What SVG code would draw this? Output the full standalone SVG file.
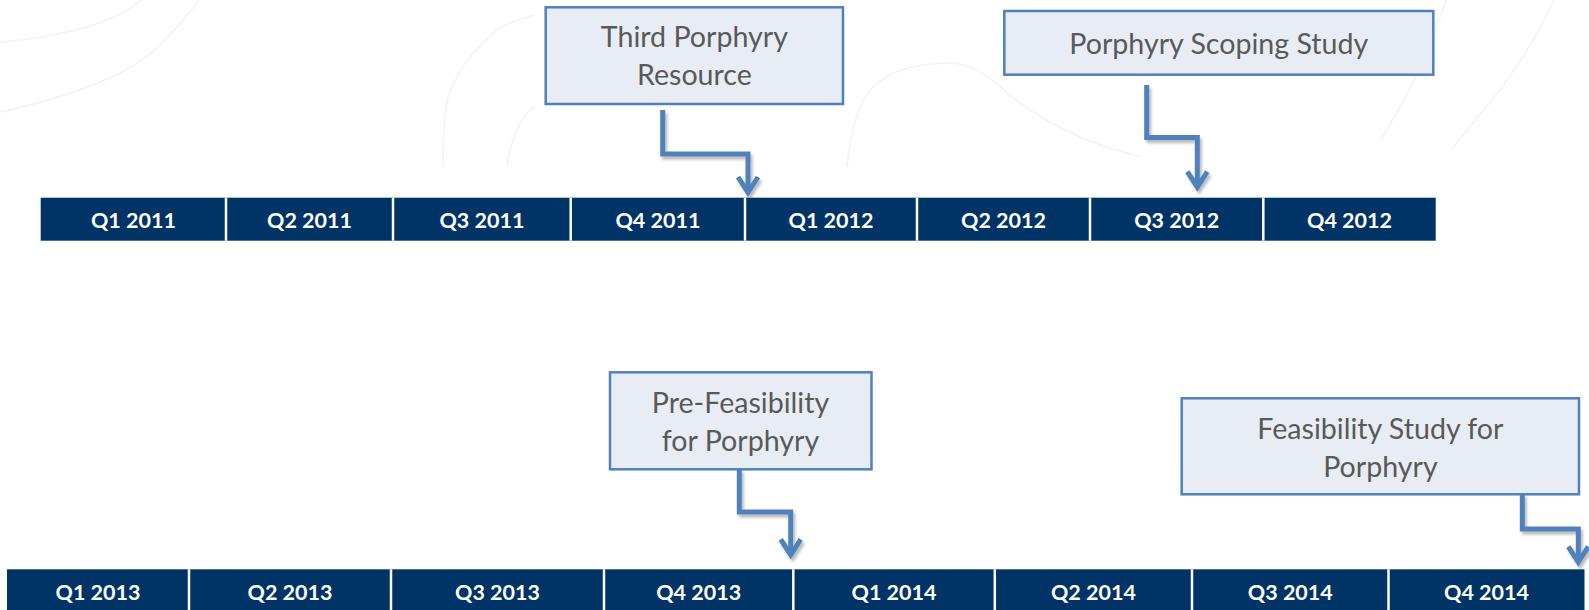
<svg xmlns="http://www.w3.org/2000/svg" width="1589" height="610" viewBox="0 0 1589 610">
  <defs>
    <filter id="shadow" x="-20%" y="-20%" width="140%" height="140%">
      <feDropShadow dx="2" dy="3" stdDeviation="1.8" flood-color="#000" flood-opacity="0.28"/>
    </filter>
    <style>
      .bg { fill: none; stroke: #f3f3f3; stroke-width: 1.6; }
      .bar { fill: #003366; }
      .div { stroke: #ffffff; stroke-width: 2.5; }
      .q { font-family: Lato, "Open Sans", "Liberation Sans", sans-serif; font-weight: bold; font-size: 21.5px; fill: #ffffff; text-anchor: middle; }
      .box { fill: #e8edf5; stroke: #4f81bd; stroke-width: 2.5; }
      .lbl { font-family: Lato, "Open Sans", "Liberation Sans", sans-serif; font-size: 28.6px; fill: #595959; text-anchor: middle; }
      .wire { fill: none; stroke: #4f81bd; stroke-width: 5; stroke-linejoin: miter; }
      .head { fill: none; stroke: #4f81bd; stroke-width: 5; stroke-linejoin: miter; stroke-miterlimit: 10; }
    </style>
  </defs>

  <rect width="1589" height="610" fill="#ffffff"/>

  <!-- faint contour lines in the background -->
  <g id="background">
    <path class="bg" d="M0 42 C30 40 80 32 112 18 C125 12 135 6 142 0"/>
    <path class="bg" d="M0 112 C20 108 70 96 112 77 C135 66 150 56 162 43 C175 30 188 15 199 0"/>
    <path class="bg" d="M443 167 C443 140 444 115 448 98 C455 75 470 52 497 30 C510 22 520 19 535 15"/>
    <path class="bg" d="M507 167 C509 150 513 135 522 120 C526 114 530 110 534 106"/>
    <path class="bg" d="M847 167 C850 135 856 108 870 90 C885 74 905 64 950 63 C975 64 990 78 1010 95 C1040 120 1080 142 1141 157"/>
    <path class="bg" d="M1451 150 C1465 132 1480 115 1492 100 C1508 80 1520 62 1530 45 C1540 28 1548 14 1554 0"/>
    <path class="bg" d="M1380 140 C1400 110 1420 70 1435 30 C1440 18 1443 8 1446 0"/>
  </g>

  <!-- 2011-2012 quarter bar -->
  <g id="bar-2011-2012">
    <rect class="bar" x="40.7" y="197.7" width="1395" height="43"/>
    <line class="div" x1="226" y1="197.7" x2="226" y2="240.7"/>
    <line class="div" x1="393" y1="197.7" x2="393" y2="240.7"/>
    <line class="div" x1="570.7" y1="197.7" x2="570.7" y2="240.7"/>
    <line class="div" x1="745" y1="197.7" x2="745" y2="240.7"/>
    <line class="div" x1="917" y1="197.7" x2="917" y2="240.7"/>
    <line class="div" x1="1090" y1="197.7" x2="1090" y2="240.7"/>
    <line class="div" x1="1263.3" y1="197.7" x2="1263.3" y2="240.7"/>
    <text class="q" x="133.4" y="228.3">Q1 2011</text>
    <text class="q" x="309.5" y="228.3">Q2 2011</text>
    <text class="q" x="481.9" y="228.3">Q3 2011</text>
    <text class="q" x="657.9" y="228.3">Q4 2011</text>
    <text class="q" x="831" y="228.3">Q1 2012</text>
    <text class="q" x="1003.5" y="228.3">Q2 2012</text>
    <text class="q" x="1176.7" y="228.3">Q3 2012</text>
    <text class="q" x="1349.5" y="228.3">Q4 2012</text>
  </g>

  <!-- 2013-2014 quarter bar -->
  <g id="bar-2013-2014">
    <rect class="bar" x="7" y="569.3" width="1577.5" height="43"/>
    <line class="div" x1="189" y1="569.3" x2="189" y2="612.3"/>
    <line class="div" x1="391" y1="569.3" x2="391" y2="612.3"/>
    <line class="div" x1="604" y1="569.3" x2="604" y2="612.3"/>
    <line class="div" x1="793.3" y1="569.3" x2="793.3" y2="612.3"/>
    <line class="div" x1="994.8" y1="569.3" x2="994.8" y2="612.3"/>
    <line class="div" x1="1192" y1="569.3" x2="1192" y2="612.3"/>
    <line class="div" x1="1388.5" y1="569.3" x2="1388.5" y2="612.3"/>
    <text class="q" x="98" y="600">Q1 2013</text>
    <text class="q" x="290" y="600">Q2 2013</text>
    <text class="q" x="497.5" y="600">Q3 2013</text>
    <text class="q" x="698.7" y="600">Q4 2013</text>
    <text class="q" x="894" y="600">Q1 2014</text>
    <text class="q" x="1093.4" y="600">Q2 2014</text>
    <text class="q" x="1290.3" y="600">Q3 2014</text>
    <text class="q" x="1486.5" y="600">Q4 2014</text>
  </g>

  <!-- milestone boxes -->
  <g id="third-porphyry-resource">
    <rect class="box" x="545.7" y="7.3" width="297.3" height="96.7"/>
    <text class="lbl" x="694.4" y="46.7">Third Porphyry</text>
    <text class="lbl" x="694.4" y="85">Resource</text>
  </g>

  <g id="porphyry-scoping-study">
    <rect class="box" x="1004.3" y="11" width="429" height="63.7"/>
    <text class="lbl" x="1218.8" y="54">Porphyry Scoping Study</text>
  </g>

  <g id="pre-feasibility">
    <rect class="box" x="610" y="372.3" width="261.5" height="97"/>
    <text class="lbl" x="740.5" y="413.3">Pre-Feasibility</text>
    <text class="lbl" x="740.5" y="450.7">for Porphyry</text>
  </g>

  <g id="feasibility-study">
    <rect class="box" x="1181.7" y="398.3" width="397.3" height="96"/>
    <text class="lbl" x="1380.4" y="439.3">Feasibility Study for</text>
    <text class="lbl" x="1380.4" y="477.3">Porphyry</text>
  </g>

  <!-- elbow connectors from each milestone down to its quarter -->
  <g id="connectors" filter="url(#shadow)">
    <path class="wire" d="M662.7 110 V154 H748 V191"/>
    <polyline class="head" points="738,177 748,192.5 758,177"/>

    <path class="wire" d="M1146.7 85 V137.5 H1197.3 V185.7"/>
    <polyline class="head" points="1187.3,171.7 1197.3,187.2 1207.3,171.7"/>

    <path class="wire" d="M739.3 469.3 V512 H790.7 V553.3"/>
    <polyline class="head" points="780.7,539.3 790.7,554.8 800.7,539.3"/>

    <path class="wire" d="M1522.3 494.3 V529 H1578.3 V560.7"/>
    <polyline class="head" points="1568.3,546.7 1578.3,562.2 1588.3,546.7"/>
  </g>
</svg>
